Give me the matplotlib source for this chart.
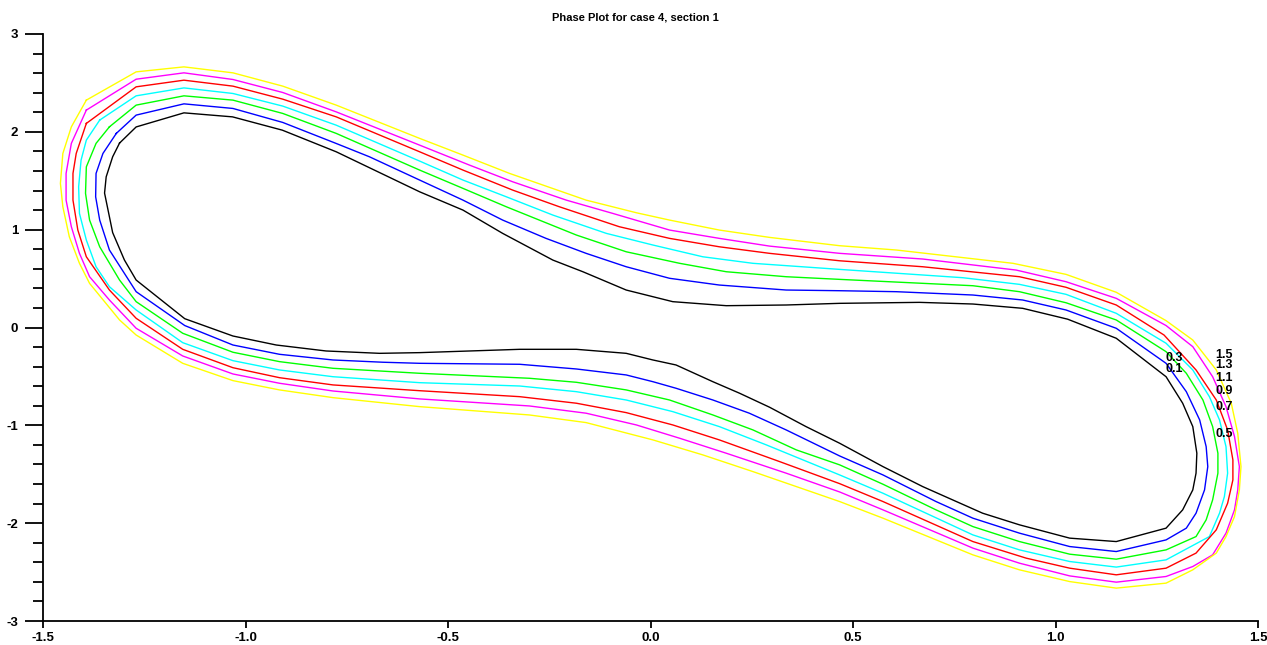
import matplotlib
matplotlib.use('Agg')
from matplotlib import pyplot as plt
from matplotlib.ticker import MultipleLocator

# contour lines, innermost first
black_x = [-1.311, -1.270, -1.152, -1.032, -0.909, -0.776, -0.570, -0.463, -0.365, -0.241, -0.167, -0.060, 0.055, 0.187, 0.335, 0.467, 0.664, 0.796, 0.919, 1.030, 1.150, 1.273, 1.314, 1.339, 1.349, 1.347, 1.339, 1.314, 1.273, 1.150, 1.035, 0.911, 0.820, 0.672, 0.574, 0.467, 0.384, 0.294, 0.220, 0.154, 0.063, 0.006, -0.060, -0.183, -0.323, -0.570, -0.669, -0.801, -0.924, -1.031, -1.150, -1.270, -1.299, -1.328, -1.348, -1.344, -1.328, -1.311]
black_y = [1.885, 2.050, 2.194, 2.153, 2.017, 1.796, 1.387, 1.200, 0.962, 0.689, 0.570, 0.383, 0.264, 0.223, 0.230, 0.247, 0.257, 0.240, 0.196, 0.085, -0.110, -0.503, -0.774, -1.013, -1.285, -1.489, -1.660, -1.864, -2.051, -2.188, -2.153, -2.017, -1.898, -1.626, -1.422, -1.183, -1.013, -0.815, -0.672, -0.554, -0.383, -0.332, -0.264, -0.223, -0.223, -0.257, -0.264, -0.240, -0.179, -0.087, 0.090, 0.485, 0.690, 0.970, 1.374, 1.540, 1.745, 1.885]

blue_x = [-1.319, -1.270, -1.152, -1.031, -0.908, -0.776, -0.694, -0.570, -0.463, -0.365, -0.258, -0.159, -0.060, 0.047, 0.170, 0.335, 0.467, 0.607, 0.796, 0.919, 1.026, 1.150, 1.273, 1.323, 1.356, 1.372, 1.376, 1.368, 1.347, 1.323, 1.273, 1.150, 1.035, 0.911, 0.796, 0.705, 0.574, 0.467, 0.335, 0.244, 0.154, 0.063, 0.006, -0.060, -0.183, -0.323, -0.570, -0.661, -0.784, -0.916, -1.031, -1.150, -1.270, -1.336, -1.360, -1.370, -1.369, -1.352, -1.319]
blue_y = [1.984, 2.171, 2.286, 2.239, 2.096, 1.881, 1.745, 1.507, 1.302, 1.098, 0.911, 0.758, 0.621, 0.503, 0.434, 0.383, 0.376, 0.366, 0.332, 0.281, 0.179, -0.008, -0.366, -0.656, -0.945, -1.218, -1.422, -1.660, -1.898, -2.051, -2.171, -2.290, -2.239, -2.102, -1.949, -1.779, -1.507, -1.313, -1.047, -0.876, -0.741, -0.621, -0.554, -0.485, -0.424, -0.376, -0.366, -0.355, -0.332, -0.274, -0.179, 0.020, 0.366, 0.792, 1.098, 1.336, 1.575, 1.779, 1.984]

green_x = [-1.336, -1.270, -1.152, -1.031, -0.908, -0.776, -0.570, -0.463, -0.356, -0.183, -0.060, 0.072, 0.187, 0.335, 0.467, 0.796, 0.911, 1.026, 1.150, 1.273, 1.323, 1.364, 1.388, 1.401, 1.401, 1.388, 1.372, 1.347, 1.273, 1.150, 1.035, 0.911, 0.796, 0.705, 0.574, 0.467, 0.360, 0.253, 0.154, 0.047, -0.060, -0.183, -0.299, -0.570, -0.784, -0.916, -1.031, -1.155, -1.270, -1.311, -1.360, -1.385, -1.395, -1.393, -1.369, -1.336]
green_y = [2.051, 2.273, 2.368, 2.324, 2.188, 1.984, 1.609, 1.422, 1.234, 0.945, 0.774, 0.656, 0.570, 0.519, 0.492, 0.427, 0.366, 0.253, 0.077, -0.247, -0.468, -0.741, -1.013, -1.285, -1.489, -1.762, -1.966, -2.137, -2.273, -2.368, -2.317, -2.188, -2.035, -1.864, -1.602, -1.404, -1.251, -1.047, -0.894, -0.741, -0.638, -0.560, -0.519, -0.468, -0.417, -0.349, -0.253, -0.059, 0.264, 0.485, 0.825, 1.098, 1.371, 1.642, 1.882, 2.051]

cyan_x = [-1.360, -1.270, -1.152, -1.031, -0.908, -0.776, -0.570, -0.463, -0.356, -0.241, -0.109, 0.006, 0.129, 0.253, 0.467, 0.771, 0.911, 1.026, 1.150, 1.273, 1.339, 1.380, 1.405, 1.421, 1.425, 1.417, 1.405, 1.380, 1.273, 1.150, 1.035, 0.911, 0.796, 0.574, 0.467, 0.286, 0.170, 0.055, -0.060, -0.183, -0.323, -0.570, -0.784, -0.916, -1.031, -1.155, -1.270, -1.336, -1.369, -1.393, -1.410, -1.412, -1.406, -1.393, -1.360]
cyan_y = [2.120, 2.368, 2.449, 2.392, 2.263, 2.068, 1.701, 1.507, 1.336, 1.149, 0.962, 0.843, 0.723, 0.656, 0.594, 0.509, 0.441, 0.339, 0.145, -0.161, -0.434, -0.707, -0.945, -1.218, -1.489, -1.728, -1.898, -2.137, -2.375, -2.449, -2.392, -2.273, -2.120, -1.694, -1.507, -1.200, -1.013, -0.860, -0.741, -0.656, -0.598, -0.564, -0.503, -0.434, -0.339, -0.155, 0.179, 0.417, 0.621, 0.894, 1.166, 1.438, 1.711, 1.915, 2.120]

red_x = [-1.393, -1.270, -1.152, -1.031, -0.908, -0.776, -0.570, -0.463, -0.340, -0.225, -0.077, 0.047, 0.170, 0.294, 0.467, 0.672, 0.911, 1.026, 1.150, 1.268, 1.347, 1.397, 1.425, 1.438, 1.438, 1.425, 1.397, 1.347, 1.273, 1.150, 1.035, 0.928, 0.796, 0.574, 0.467, 0.319, 0.170, 0.055, -0.060, -0.183, -0.323, -0.570, -0.784, -0.916, -1.031, -1.155, -1.270, -1.336, -1.393, -1.414, -1.426, -1.426, -1.418, -1.393]
red_y = [2.086, 2.460, 2.528, 2.467, 2.334, 2.153, 1.796, 1.609, 1.404, 1.234, 1.030, 0.911, 0.825, 0.758, 0.682, 0.621, 0.519, 0.411, 0.230, -0.077, -0.434, -0.741, -1.047, -1.353, -1.558, -1.796, -2.068, -2.306, -2.460, -2.528, -2.460, -2.358, -2.188, -1.779, -1.596, -1.371, -1.149, -0.996, -0.870, -0.774, -0.707, -0.646, -0.587, -0.513, -0.411, -0.223, 0.094, 0.383, 0.723, 0.996, 1.302, 1.575, 1.779, 2.086]

magenta_x = [-1.393, -1.270, -1.152, -1.031, -0.908, -0.776, -0.570, -0.447, -0.340, -0.208, -0.093, 0.047, 0.170, 0.294, 0.467, 0.672, 0.903, 1.026, 1.150, 1.273, 1.339, 1.388, 1.421, 1.442, 1.454, 1.450, 1.442, 1.421, 1.388, 1.339, 1.273, 1.150, 1.035, 0.911, 0.796, 0.574, 0.467, 0.335, 0.187, 0.072, -0.035, -0.159, -0.299, -0.570, -0.784, -0.916, -1.031, -1.155, -1.270, -1.336, -1.385, -1.410, -1.430, -1.443, -1.443, -1.430, -1.393]
magenta_y = [2.222, 2.538, 2.603, 2.535, 2.402, 2.204, 1.864, 1.660, 1.489, 1.302, 1.166, 0.996, 0.911, 0.832, 0.758, 0.700, 0.587, 0.468, 0.298, 0.020, -0.196, -0.503, -0.809, -1.115, -1.422, -1.660, -1.864, -2.102, -2.324, -2.443, -2.545, -2.603, -2.539, -2.409, -2.255, -1.864, -1.681, -1.489, -1.285, -1.132, -0.996, -0.876, -0.802, -0.730, -0.649, -0.570, -0.475, -0.291, -0.008, 0.281, 0.519, 0.758, 1.030, 1.302, 1.575, 1.882, 2.222]

yellow_x = [-1.393, -1.270, -1.152, -1.031, -0.908, -0.776, -0.570, -0.463, -0.348, -0.159, -0.035, 0.047, 0.170, 0.294, 0.467, 0.607, 0.895, 1.026, 1.150, 1.273, 1.339, 1.397, 1.434, 1.450, 1.458, 1.454, 1.442, 1.421, 1.397, 1.339, 1.273, 1.150, 1.035, 0.911, 0.796, 0.574, 0.467, 0.253, 0.129, 0.006, -0.159, -0.299, -0.570, -0.784, -0.916, -1.031, -1.155, -1.270, -1.311, -1.385, -1.410, -1.435, -1.451, -1.457, -1.451, -1.430, -1.393]
yellow_y = [2.324, 2.613, 2.664, 2.603, 2.467, 2.273, 1.933, 1.762, 1.575, 1.302, 1.173, 1.098, 0.996, 0.921, 0.836, 0.792, 0.656, 0.543, 0.360, 0.070, -0.128, -0.434, -0.774, -1.081, -1.422, -1.660, -1.933, -2.137, -2.306, -2.477, -2.613, -2.664, -2.597, -2.477, -2.324, -1.949, -1.779, -1.473, -1.302, -1.149, -0.972, -0.894, -0.809, -0.717, -0.638, -0.543, -0.366, -0.077, 0.077, 0.451, 0.656, 0.927, 1.234, 1.473, 1.779, 2.051, 2.324]

# contour level labels
label_text = ['0.3', '0.1', '1.5', '1.3', '1.1', '0.9', '0.7', '0.5']
label_x = [1.294, 1.294, 1.417, 1.417, 1.417, 1.417, 1.417, 1.417]
label_y = [-0.308, -0.427, -0.281, -0.383, -0.519, -0.649, -0.815, -1.091]

plt.rcParams['font.family'] = ['Liberation Sans', 'DejaVu Sans']

fig = plt.figure(figsize=(12.67, 6.45), dpi=100)
ax = fig.add_axes([43 / 1267, 1 - 621 / 645, (1258 - 43) / 1267, (621 - 34) / 645])

lines = [(black_x, black_y, 'black'), (blue_x, blue_y, '#0000ff'), (green_x, green_y, '#00ff00'),
         (cyan_x, cyan_y, '#00ffff'), (red_x, red_y, '#ff0000'), (magenta_x, magenta_y, '#ff00ff'),
         (yellow_x, yellow_y, '#ffff00')]
for xs, ys, c in lines:
    ax.plot(xs, ys, color=c, lw=1.0)

for t, x, y in zip(label_text, label_x, label_y):
    ax.text(x, y, t, ha='center', va='center', fontsize=9, fontweight='bold')

ax.set_xlim(-1.5, 1.5)
ax.set_ylim(-3, 3)
ax.spines['top'].set_visible(False)
ax.spines['right'].set_visible(False)
ax.spines['left'].set_linewidth(1.3)
ax.spines['bottom'].set_linewidth(1.3)

ax.yaxis.set_minor_locator(MultipleLocator(0.2))
ax.set_xticks([-1.5, -1.0, -0.5, 0.0, 0.5, 1.0, 1.5])
ax.set_xticklabels(['-1.5', '-1.0', '-0.5', '0.0', '0.5', '1.0', '1.5'])
ax.set_yticks([-3, -2, -1, 0, 1, 2, 3])
ax.set_yticklabels(['-3', '-2', '-1', '0', '1', '2', '3'])
ax.tick_params(axis='y', which='major', length=13, width=1.3, pad=5, labelsize=9.5)
ax.tick_params(axis='y', which='minor', length=7, width=1.3)
ax.tick_params(axis='x', which='major', length=5, width=1.3, pad=3, labelsize=9.5)
for lab in ax.get_xticklabels() + ax.get_yticklabels():
    lab.set_fontweight('bold')

fig.text(635.5 / 1267, 1 - 17 / 645, 'Phase Plot for case 4, section 1',
         ha='center', va='center', fontsize=8, fontweight='bold')

fig.savefig('out.png', dpi=100)
